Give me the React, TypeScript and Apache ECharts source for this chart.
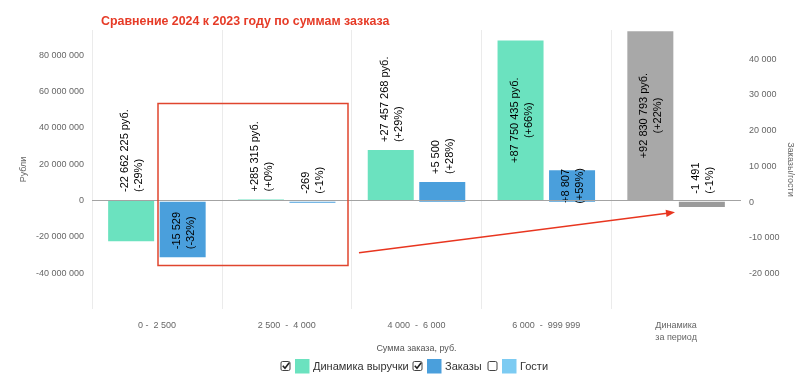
import React, { useEffect, useRef } from 'react';
import * as echarts from 'echarts';

// ---- data ----
const categories = ['0 -  2 500', '2 500  -  4 000', '4 000  -  6 000', '6 000  -  999 999', 'Динамика\nза период'];
const revenueDelta = [-22662225, 285315, 27457268, 87750435, 92830793];
const revenuePct = [-29, 0, 29, 66, 22];
const ordersDelta = [-15529, -269, 5500, 8807, -1491];
const ordersPct = [-32, -1, 28, 59, -1];
const legendNames = ['Динамика выручки', 'Заказы', 'Гости'];
const legendChecked = [true, true, false];
const leftTicks = { min: -60000000, max: 93500000, interval: 20000000 };
const rightTicks = { min: -30000, max: 48000, interval: 10000 };

// ---- styles ----
const GREEN = '#6be2bf';
const BLUE = '#4a9fdc';
const LIGHTBLUE = '#7ccbf2';
const GRAY1 = '#a8a8a8';
const GRAY2 = '#9a9a9a';
const revenueLabelPos = ['top', 'top', 'top', 'inside', 'inside'];
const ordersLabelPos = ['insideBottom', 'top', 'top', 'inside', 'top'];
const FONT = '"Liberation Sans", Arial, Helvetica, sans-serif';

function grp(n: number): string {
  return Math.abs(Math.round(n)).toString().replace(/\B(?=(\d{3})+(?!\d))/g, ' ');
}
function signed(n: number): string {
  return (n < 0 ? '-' : '+') + grp(n);
}
function axisFmt(v: number): string {
  return (v < 0 ? '-' : '') + grp(v);
}

function labelFor(pos: string) {
  if (pos === 'inside') {
    return { position: 'inside', align: 'center', verticalAlign: 'middle' };
  }
  return { position: pos, align: 'left', verticalAlign: 'middle', distance: 8 };
}

function buildLegend(): any[] {
  const colors = [GREEN, BLUE, LIGHTBLUE];
  const xs = [281, 413, 488];
  const cy = 366;
  const els: any[] = [];
  legendNames.forEach((name, i) => {
    const x = xs[i];
    els.push({
      type: 'rect',
      shape: { x: x, y: cy - 4.5, width: 9, height: 9, r: 1.5 },
      style: { fill: '#fff', stroke: '#444', lineWidth: 1 },
    });
    if (legendChecked[i]) {
      els.push({
        type: 'polyline',
        shape: { points: [[x + 1.8, cy - 0.3], [x + 4, cy + 2.3], [x + 8.2, cy - 3.2]] },
        style: { stroke: '#222', lineWidth: 1.6, fill: 'none' },
      });
    }
    els.push({
      type: 'rect',
      shape: { x: x + 14, y: cy - 7, width: 14.5, height: 14.5 },
      style: { fill: colors[i] },
    });
    els.push({
      type: 'text',
      x: x + 32,
      y: cy,
      style: { text: name, fontSize: 11, fill: '#333', fontFamily: FONT, verticalAlign: 'middle', align: 'left' },
    });
  });
  return els;
}

function buildArrow(): any[] {
  const sx = 359, sy = 252.7, tx = 675, ty = 212.3;
  const dx = tx - sx, dy = ty - sy;
  const len = Math.sqrt(dx * dx + dy * dy);
  const ux = dx / len, uy = dy / len;
  const nx = -uy, ny = ux;
  const hl = 9, hw = 3.6;
  const bx = tx - hl * ux, by = ty - hl * uy;
  return [
    {
      type: 'line',
      shape: { x1: sx, y1: sy, x2: bx + ux, y2: by + uy },
      style: { stroke: '#e8351f', lineWidth: 1.5 },
      z: 100,
    },
    {
      type: 'polygon',
      shape: { points: [[tx, ty], [bx + hw * nx, by + hw * ny], [bx - hw * nx, by - hw * ny]] },
      style: { fill: '#e8351f' },
      z: 100,
    },
  ];
}

export default function App() {
  const ref = useRef<HTMLDivElement>(null);
  useEffect(() => {
    if (!ref.current) return;
    const chart = echarts.init(ref.current, undefined, { renderer: 'svg' });
    const last = categories.length - 1;
    const option: any = {
      animation: false,
      textStyle: { fontFamily: FONT },
      title: {
        text: 'Сравнение 2024 к 2023 году по суммам зазказа',
        left: 101,
        top: 15,
        padding: 0,
        textStyle: { fontSize: 12.4, fontWeight: 'bold', color: '#e63b27', fontFamily: FONT },
      },
      grid: { left: 92, right: 59, top: 30, bottom: 82, containLabel: false, outerBoundsMode: 'none' },
      xAxis: {
        type: 'category',
        data: categories,
        name: 'Сумма заказа, руб.',
        nameLocation: 'middle',
        nameGap: 34,
        nameMoveOverlap: false,
        nameTextStyle: { fontSize: 9, color: '#555' },
        axisLine: { show: false, onZero: false },
        axisTick: { show: false },
        axisLabel: { fontSize: 9, color: '#666', margin: 10, lineHeight: 12 },
        splitLine: { show: true, showMaxLine: false, lineStyle: { color: '#ebebeb', width: 1 } },
      },
      yAxis: [
        {
          type: 'value',
          min: leftTicks.min,
          max: leftTicks.max,
          interval: leftTicks.interval,
          name: 'Рубли',
          nameLocation: 'middle',
          nameGap: 65,
          nameMoveOverlap: false,
          nameTextStyle: { fontSize: 9, color: '#666' },
          axisLine: { show: false },
          axisTick: { show: false },
          splitLine: { show: false },
          axisLabel: { fontSize: 9, color: '#666', margin: 8, showMinLabel: false, showMaxLabel: false, formatter: axisFmt },
        },
        {
          type: 'value',
          position: 'right',
          min: rightTicks.min,
          max: rightTicks.max,
          interval: rightTicks.interval,
          name: 'Заказы/гости',
          nameLocation: 'middle',
          nameGap: 45,
          nameRotate: -90,
          nameMoveOverlap: false,
          nameTextStyle: { fontSize: 9, color: '#666' },
          axisLine: { show: false },
          axisTick: { show: false },
          splitLine: { show: false },
          axisLabel: { fontSize: 9, color: '#666', margin: 8, showMinLabel: false, showMaxLabel: false, formatter: axisFmt },
        },
      ],
      series: [
        {
          name: legendNames[0],
          type: 'bar',
          yAxisIndex: 0,
          barWidth: 46,
          barGap: '12%',
          data: revenueDelta.map((v, i) => ({
            value: v,
            itemStyle: { color: i === last ? GRAY1 : GREEN },
            label: labelFor(revenueLabelPos[i]),
          })),
          label: {
            show: true,
            rotate: 90,
            fontSize: 11,
            lineHeight: 14,
            color: '#000',
            fontFamily: FONT,
            formatter: (p: any) => `${signed(revenueDelta[p.dataIndex])} руб.\n(${signed(revenuePct[p.dataIndex])}%)`,
          },
          emphasis: { disabled: true },
          markLine: {
            silent: true,
            symbol: 'none',
            label: { show: false },
            lineStyle: { color: '#a3a3a3', width: 1, type: 'solid' },
            data: [{ yAxis: 0 }],
          },
        },
        {
          name: legendNames[1],
          type: 'bar',
          yAxisIndex: 1,
          barWidth: 46,
          barGap: '12%',
          data: ordersDelta.map((v, i) => ({
            value: v,
            itemStyle: { color: i === last ? GRAY2 : BLUE },
            label: labelFor(ordersLabelPos[i]),
          })),
          label: {
            show: true,
            rotate: 90,
            fontSize: 11,
            lineHeight: 14,
            color: '#000',
            fontFamily: FONT,
            formatter: (p: any) => `${signed(ordersDelta[p.dataIndex])}\n(${signed(ordersPct[p.dataIndex])}%)`,
          },
          emphasis: { disabled: true },
        },
      ],
      graphic: [
        {
          type: 'rect',
          shape: { x: 158, y: 103.5, width: 190, height: 162 },
          style: { fill: 'none', stroke: '#e0452e', lineWidth: 1.5 },
          z: 100,
        },
        ...buildArrow(),
        ...buildLegend(),
      ],
    };
    chart.setOption(option);
    return () => chart.dispose();
  }, []);
  return <div ref={ref} style={{ position: 'fixed', left: 0, top: 0, width: 800, height: 391 }} />;
}
